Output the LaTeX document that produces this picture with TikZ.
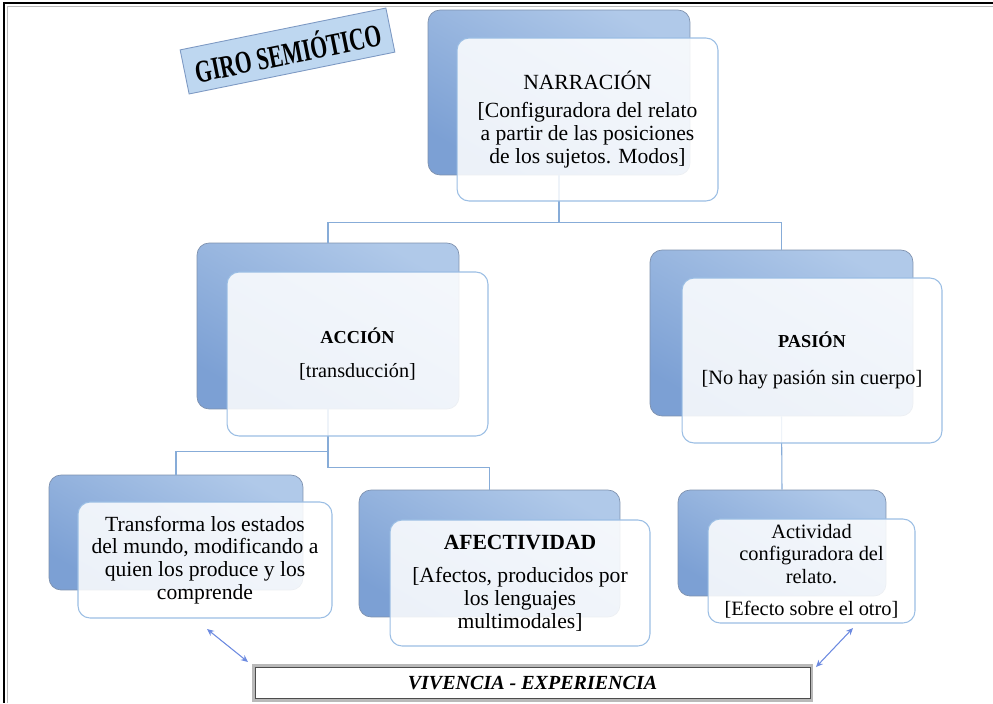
\documentclass[tikz,border=0pt]{standalone}
\usepackage{fontspec}
\setmainfont{Liberation Serif}
\usetikzlibrary{arrows.meta}
\definecolor{azulclaro}{RGB}{176,201,233}
\definecolor{azuloscuro}{RGB}{124,160,212}
\definecolor{bordeazul}{RGB}{155,190,228}
\definecolor{lineaazul}{RGB}{135,172,216}
\definecolor{titulofondo}{RGB}{190,215,240}

\begin{document}
\begin{tikzpicture}[x=0.02cm,y=-0.02cm]
        \tikzstyle{every node}=[font=\fontsize{12.3}{13}\selectfont, align=center, inner sep=1pt]
        \tikzstyle{backbox}=[rounded corners=0.24cm, top color=azulclaro, bottom color=azuloscuro, shading angle=-30, draw=gray!45!azuloscuro, line width=0.4pt]
        \tikzstyle{frontbox}=[rounded corners=0.24cm, fill=white, fill opacity=0.86, text opacity=1, draw=bordeazul, line width=0.6pt]
        \tikzstyle{linker}=[draw=lineaazul, line width=0.6pt]
        \tikzstyle{flecha}=[lineaazul!80!blue, line width=0.6pt, {Stealth[length=4pt,width=3.5pt]}-{Stealth[length=4pt,width=3.5pt]}]
        \tikzstyle{barra}=[minimum width=11.1cm, minimum height=0.62cm, fill=white, draw=black!70, line width=0.5pt, preaction={draw=gray!55, line width=4pt}, font=\fontsize{11.4}{12}\selectfont\bfseries\itshape]
        \tikzstyle{titulo}=[fill=titulofondo, draw=azuloscuro!80!gray, line width=0.5pt, minimum width=4.2cm, minimum height=0.9cm, font=\fontsize{18}{18}\selectfont\bfseries]
        \useasboundingbox (0,0) rectangle (993,703);
        % marco
        \draw[black, line width=1.2pt] (993,3) -- (4,3) -- (4,703);
        \draw[gray!55, line width=0.5pt] (993,6.5) -- (7.5,6.5) -- (7.5,703);
        \node[titulo, rotate=11.5] (giro) at (287.5,51) {\scalebox{0.68}[1]{GIRO SEMIÓTICO}};
        % cajas de fondo
        \node[backbox, minimum width=5.24cm, minimum height=3.3cm] (narrB) at (559,92.5) {};
        \node[backbox, minimum width=5.24cm, minimum height=3.32cm] (accB) at (328,326) {};
        \node[backbox, minimum width=5.26cm, minimum height=3.32cm] (pasB) at (781.5,333) {};
        \node[backbox, minimum width=5.08cm, minimum height=2.3cm] (trB) at (176,532.5) {};
        \node[backbox, minimum width=5.22cm, minimum height=2.54cm] (afB) at (489.5,553.5) {};
        \node[backbox, minimum width=4.16cm, minimum height=2.12cm] (actB) at (782,543) {};
        % conectores
        \draw[linker] (narrB.south) -- ++(0,47) -| (accB.north);
        \draw[linker] (narrB.south) -- ++(0,47) -| (pasB.north);
        \draw[linker] (accB.south) -- ++(0,42) -| (trB.north);
        \draw[linker] (accB.south) -- ++(0,58) -| (afB.north);
        \draw[linker] (pasB.south) -- (actB.north);
        % cajas de texto
        \node[frontbox, minimum width=5.22cm, minimum height=3.26cm] (narrF) at (587.5,119.5)
            {NARRACIÓN\\[3pt] [Configuradora del relato\\ a partir de las posiciones\\ de los sujetos. Modos]};
        \node[frontbox, minimum width=5.22cm, minimum height=3.28cm, font=\fontsize{11.5}{13}\selectfont] (accF) at (357.5,354)
            {\textbf{\fontsize{10.4}{12}\selectfont ACCIÓN}\\[6pt] [transducción]};
        \node[frontbox, minimum width=5.2cm, minimum height=3.3cm, font=\fontsize{11.6}{13}\selectfont] (pasF) at (812,360.5)
            {\textbf{\fontsize{10.4}{12}\selectfont PASIÓN}\\[8pt] [No hay pasión sin cuerpo]};
        \node[frontbox, minimum width=5.08cm, minimum height=2.32cm] (trF) at (205,560)
            {Transforma los estados\\ del mundo, modificando a\\ quien los produce y los\\ comprende};
        \node[frontbox, minimum width=5.2cm, minimum height=2.52cm] (afF) at (520,583)
            {\textbf{AFECTIVIDAD}\\[6pt] [Afectos, producidos por\\ los lenguajes\\ multimodales]};
        \node[frontbox, minimum width=4.14cm, minimum height=2.08cm, font=\fontsize{11.6}{13}\selectfont] (actF) at (811.5,571)
            {Actividad\\ configuradora del\\ relato.\\[5pt] [Efecto sobre el otro]};
        % vivencia
        \node[barra] (viv) at (532.5,683) {VIVENCIA - EXPERIENCIA};
        \coordinate (flechaA1) at (207,629);
        \coordinate (flechaA2) at (248,662);
        \coordinate (flechaB1) at (853,628);
        \coordinate (flechaB2) at (816,667);
        \draw[flecha] (flechaA1) -- (flechaA2);
        \draw[flecha] (flechaB1) -- (flechaB2);
\end{tikzpicture}
\end{document}
